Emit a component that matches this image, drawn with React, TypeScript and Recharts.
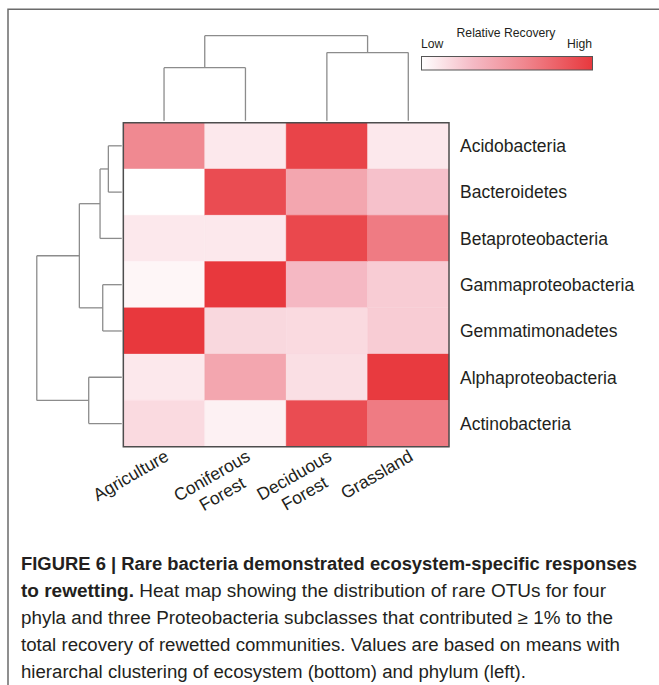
import React from "react";
import {
  ScatterChart,
  Scatter,
  XAxis,
  YAxis,
  ReferenceArea,
  ReferenceLine,
} from "recharts";

// ecosystems along the bottom, phyla down the right side
const ecosystems = ["Agriculture", "Coniferous\nForest", "Deciduous\nForest", "Grassland"];
const phyla = [
  "Acidobacteria",
  "Bacteroidetes",
  "Betaproteobacteria",
  "Gammaproteobacteria",
  "Gemmatimonadetes",
  "Alphaproteobacteria",
  "Actinobacteria",
];

// relative recovery (0 = low, 1 = high), one value per phylum
const agriculture = [0.59, 0.0, 0.1, 0.04, 1.0, 0.1, 0.16];
const coniferous = [0.1, 0.9, 0.1, 1.0, 0.17, 0.42, 0.06];
const deciduous = [0.94, 0.42, 0.92, 0.31, 0.16, 0.14, 0.9];
const grassland = [0.1, 0.27, 0.66, 0.22, 0.22, 0.99, 0.66];

// dendrograms: [child, child, height]; leaves are 0..n-1, merges numbered after
const ecosystemMerges = [
  [0, 1, 0.632],
  [2, 3, 0.805],
  [4, 5, 1],
];
const phylumMerges = [
  [0, 1, 0.173],
  [7, 2, 0.269],
  [3, 4, 0.238],
  [8, 9, 0.508],
  [5, 6, 0.4],
  [10, 11, 1],
];

const colorStops: [number, string][] = [
  [0, "#FFFFFF"],
  [0.3, "#F5BAC5"],
  [0.6, "#F0878F"],
  [1, "#E8383D"],
];

const FONT = '"Liberation Sans", Arial, sans-serif';
const TOP_SPAN = 1.88; // rows used by the top tree
const LEFT_SPAN = 1.063; // columns used by the left tree
const TOP_LEAF = 0.023;
const LEFT_LEAF = 0.018;

const hex = (h: string) => [1, 3, 5].map((i) => parseInt(h.slice(i, i + 2), 16));

function colorFor(v: number) {
  for (let i = 1; i < colorStops.length; i++) {
    const [t1, c1] = colorStops[i];
    const [t0, c0] = colorStops[i - 1];
    if (v <= t1) {
      const f = (v - t0) / (t1 - t0);
      const a = hex(c0);
      const b = hex(c1);
      const rgb = a.map((x, k) => Math.round(x + (b[k] - x) * f));
      return `rgb(${rgb.join(",")})`;
    }
  }
  return colorStops[colorStops.length - 1][1];
}

const columns = [agriculture, coniferous, deciduous, grassland];
const cells = columns.flatMap((col, c) =>
  col.map((value, r) => ({ x: c + 0.5, y: r + 0.5, col: c, row: r, value }))
);

// turn merges into line segments: pos along the leaves, height away from the map
function treeSegments(leafCount: number, merges: number[][], leafH: number) {
  const pos: number[] = [];
  const hgt: number[] = [];
  for (let i = 0; i < leafCount; i++) {
    pos.push(i + 0.5);
    hgt.push(leafH);
  }
  const segs: { p1: number; h1: number; p2: number; h2: number }[] = [];
  merges.forEach(([a, b, h]) => {
    segs.push({ p1: pos[a], h1: hgt[a], p2: pos[a], h2: h });
    segs.push({ p1: pos[b], h1: hgt[b], p2: pos[b], h2: h });
    segs.push({ p1: pos[a], h1: h, p2: pos[b], h2: h });
    pos.push((pos[a] + pos[b]) / 2);
    hgt.push(h);
  });
  return segs;
}

const topSegs = treeSegments(ecosystems.length, ecosystemMerges, TOP_LEAF);
const leftSegs = treeSegments(phyla.length, phylumMerges, LEFT_LEAF);

let ctx: CanvasRenderingContext2D | null = null;
function textWidth(t: string, font: string) {
  if (!ctx) ctx = document.createElement("canvas").getContext("2d");
  if (!ctx) return t.length * 9;
  ctx.font = font;
  return ctx.measureText(t).width;
}

function EcosystemTick(props: any) {
  const { x, y, payload } = props;
  const lines = ecosystems[Math.floor(payload.value)].split("\n");
  const w0 = textWidth(lines[0], `17.5px ${FONT}`);
  return (
    <g transform={`translate(${x + 6},${y + 13}) rotate(-30)`}>
      {lines.map((line, i) => (
        <text
          key={i}
          x={i === 0 ? 0 : -w0 / 2}
          y={i * 21}
          textAnchor={i === 0 ? "end" : "middle"}
          fontFamily={FONT}
          fontSize={17.5}
          fill="#231f20"
        >
          {line}
        </text>
      ))}
    </g>
  );
}

function PhylumTick(props: any) {
  const { x, y, payload } = props;
  return (
    <text
      x={x}
      y={y}
      dy="0.36em"
      textAnchor="start"
      fontFamily={FONT}
      fontSize={17.5}
      fill="#231f20"
    >
      {phyla[Math.floor(payload.value)]}
    </text>
  );
}

const captionLines = [
  { bold: "FIGURE 6 | Rare bacteria demonstrated ecosystem-specific responses", rest: "", w: 616 },
  { bold: "to rewetting.", rest: " Heat map showing the distribution of rare OTUs for four", w: 585 },
  { bold: "", rest: "phyla and three Proteobacteria subclasses that contributed \u2265 1% to the", w: 592 },
  { bold: "", rest: "total recovery of rewetted communities. Values are based on means with", w: 599 },
  { bold: "", rest: "hierarchal clustering of ecosystem (bottom) and phylum (left).", w: 505 },
];

export default function App() {
  const grad = colorStops;
  return (
    <div
      style={{
        position: "absolute",
        left: 0,
        top: 0,
        width: 659,
        height: 685,
        overflow: "hidden",
        background: "#fff",
      }}
    >
      <ScatterChart
        width={659}
        height={685}
        margin={{ top: 30.1, right: 60, bottom: 158.3, left: 29.7 }}
      >
        <XAxis
          type="number"
          dataKey="x"
          domain={[-1.15, 4]}
          allowDataOverflow
          ticks={[0.5, 1.5, 2.5, 3.5]}
          interval={0}
          axisLine={false}
          tickLine={false}
          tickSize={0}
          tickMargin={0}
          height={80}
          tick={<EcosystemTick />}
        />
        <YAxis
          type="number"
          dataKey="y"
          orientation="right"
          domain={[-2, 7]}
          allowDataOverflow
          reversed
          ticks={[0.5, 1.5, 2.5, 3.5, 4.5, 5.5, 6.5]}
          interval={0}
          axisLine={false}
          tickLine={false}
          tickSize={0}
          tickMargin={11}
          width={150}
          tick={<PhylumTick />}
        />
        {cells.map((c) => (
          <ReferenceArea
            key={`${c.col}-${c.row}`}
            x1={c.col}
            x2={c.col + 1}
            y1={c.row}
            y2={c.row + 1}
            fill={colorFor(c.value)}
            fillOpacity={1}
            stroke={colorFor(c.value)}
            strokeWidth={0.4}
            ifOverflow="visible"
          />
        ))}
        <ReferenceArea
          x1={0}
          x2={ecosystems.length}
          y1={0}
          y2={phyla.length}
          fill="none"
          fillOpacity={0}
          stroke="#4d4d4d"
          strokeWidth={1.5}
          ifOverflow="visible"
        />
        {topSegs.map((s, i) => (
          <ReferenceLine
            key={`t${i}`}
            segment={[
              { x: s.p1, y: -s.h1 * TOP_SPAN },
              { x: s.p2, y: -s.h2 * TOP_SPAN },
            ]}
            stroke="#8c8c8c"
            strokeWidth={1.3}
            ifOverflow="visible"
          />
        ))}
        {leftSegs.map((s, i) => (
          <ReferenceLine
            key={`l${i}`}
            segment={[
              { x: -s.h1 * LEFT_SPAN, y: s.p1 },
              { x: -s.h2 * LEFT_SPAN, y: s.p2 },
            ]}
            stroke="#8c8c8c"
            strokeWidth={1.3}
            ifOverflow="visible"
          />
        ))}
        <Scatter data={cells} isAnimationActive={false} shape={() => <g />} />
      </ScatterChart>

      <svg
        width={659}
        height={685}
        style={{ position: "absolute", left: 0, top: 0, pointerEvents: "none" }}
      >
        <defs>
          <linearGradient id="recovery" x1="0" x2="1" y1="0" y2="0">
            {grad.map(([t, c]) => (
              <stop key={t} offset={t} stopColor={c} />
            ))}
          </linearGradient>
        </defs>
        <path d="M8 685 V9.3 H659" fill="none" stroke="#6b6b6b" strokeWidth={1.5} />

        <text x={506} y={36.5} textAnchor="middle" fontFamily={FONT} fontSize={12.2} fill="#231f20">
          Relative Recovery
        </text>
        <text x={421} y={47.7} fontFamily={FONT} fontSize={12.2} fill="#231f20">
          Low
        </text>
        <text x={592} y={47.7} textAnchor="end" fontFamily={FONT} fontSize={12.2} fill="#231f20">
          High
        </text>
        <rect x={421.5} y={56.5} width={171} height={13.5} fill="url(#recovery)" stroke="#555" strokeWidth={1} />

        {captionLines.map((l, i) => (
          <text
            key={i}
            x={21}
            y={569.5 + i * 27}
            textLength={l.w}
            lengthAdjust="spacingAndGlyphs"
            fontFamily={'"Liberation Sans Narrow", "Liberation Sans", Arial, sans-serif'}
            fontSize={18}
            fill="#231f20"
          >
            {l.bold && <tspan fontWeight="bold">{l.bold}</tspan>}
            {l.rest && <tspan>{l.rest}</tspan>}
          </text>
        ))}
      </svg>
    </div>
  );
}
